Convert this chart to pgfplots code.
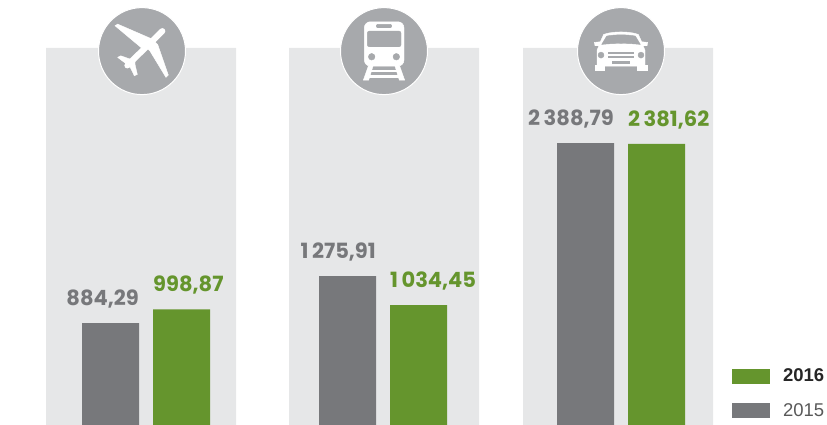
\documentclass[border=0pt]{standalone}
\usepackage{pgfplots}
\pgfplotsset{compat=1.18}
\usepackage{fontspec}
\setmainfont{Liberation Sans}
\newfontfamily\numfont{Poppins}
\definecolor{panel}{HTML}{E6E7E8}
\definecolor{disc}{HTML}{A7A9AC}
\definecolor{gbar}{HTML}{77787B}
\definecolor{green16}{HTML}{65952D}

% icons, in 1/3 px round the centre of the disc, y down
\pgfdeclareplotmark{plane}{%
  \begin{scope}[x=0.3333pt,y=-0.3333pt]
    \fill[white] (-81,-76)--(-73,-81)--(33,-35)--(4,-5)--cycle;
    \fill[white] (12,-12)--(33,-33)--(47,-20)--(79,72)--(72,79)--(24,0)--cycle;
    \fill[white] (-73,19)--(-64,14)--(-27,27)--(-43,43)--(-49,37)--cycle;
    \fill[white] (-36,36)--(-21,21)--(-21,40)--(-14,70)--(-23,74)--(-36,47)--cycle;
    \draw[white,line width=6pt,line cap=round] (61,-60)--(-44,43);
  \end{scope}}
\pgfdeclareplotmark{train}{%
  \begin{scope}[x=0.3333pt,y=-0.3333pt]
    \fill[white,rounded corners=6pt] (-59,45)--(-59,-88)--(60,-88)--(60,45)--cycle;
    \fill[disc,rounded corners=2pt] (-50,-60) rectangle (51,-13);
    \fill[disc,rounded corners=1pt] (-23,-80) rectangle (23,-70);
    \fill[disc] (-37,17) circle (3.3pt);
    \fill[disc] (37,17) circle (3.3pt);
    \fill[white] (-47,45)--(-33,45)--(-46,87)--(-62,87)--cycle;
    \fill[white] (33,45)--(47,45)--(62,87)--(46,87)--cycle;
    \fill[white] (-42,56) rectangle (42,61);
    \fill[white] (-50,72) rectangle (50,77);
  \end{scope}}
\pgfdeclareplotmark{car}{%
  \begin{scope}[x=0.3333pt,y=-0.3333pt]
    \fill[white] (-72,45)--(-72,-3)--(-66,-16)--(-78,-16)--(-80,-26)--(-62,-28)
      --(-52,-50) .. controls (-25,-60) and (25,-60) .. (52,-50)
      --(62,-28)--(80,-26)--(78,-16)--(66,-16)--(72,-3)--(72,45)--cycle;
    \fill[white] (-78,42) rectangle (-50,58);
    \fill[white] (50,42) rectangle (78,58);
    \fill[disc] (-58,-20)--(-43,-45) .. controls (-20,-50) and (20,-50) .. (43,-45)
      --(58,-20) .. controls (20,-24) and (-20,-24) .. (-58,-20)--cycle;
    \fill[disc] (-60,12) circle (3pt);
    \fill[disc] (60,12) circle (3pt);
    \fill[disc] (-37,4) rectangle (37,7);
    \fill[disc] (-37,14) rectangle (37,17);
    \fill[disc] (-25,30) rectangle (25,37);
  \end{scope}}

\pgfplotsset{
  valbar/.style 2 args={ybar, bar width=57pt, draw=none, fill=#1,
    nodes near coords, point meta=y,
    every node near coord/.append style={font=\numfont\bfseries\fontsize{21}{21}\selectfont,
      text=#1, inner sep=0pt, #2,
      /pgf/number format/.cd, fixed, fixed zerofill, precision=2, use comma,
      1000 sep={\kern3.5pt}, assume math mode=true}},
}

\begin{document}
\begin{tikzpicture}
\begin{axis}[
  scale only axis, width=827pt, height=425pt,
  axis lines=none,
  xmin=0, xmax=827, ymin=31.8, ymax=3585.3,
  legend style={draw=none, fill=none, at={(axis cs:732,517)}, anchor=north west,
    inner sep=0pt, outer sep=0pt, font=\fontsize{18.5}{18.5}\selectfont,
    row sep=16pt},
  legend cell align=left,
  reverse legend,
  legend image code/.code={\fill[#1] (0pt,-7.5pt) rectangle (38pt,7.5pt);},
]
% panels
\addplot[ybar, bar width=190pt, draw=none, fill=panel, forget plot] coordinates {(141,3184) (384,3184) (618,3184)};

% bars
\addplot[valbar={gbar}{anchor=south east, xshift=28.5pt, yshift=15pt}] coordinates {(110.5,884.29) (347.5,1275.91) (585.5,2388.79)};
\addlegendentry{\hspace*{11pt}\textcolor{black!65}{2015}}
\addplot[valbar={green16}{anchor=south west, xshift=-28.5pt, yshift=15pt}] coordinates {(181.5,998.87) (418.5,1034.45) (656.5,2381.62)};
\addlegendentry{\hspace*{11pt}\textcolor{black!85}{\textbf{2016}}}

% discs and icons
\addplot[only marks, mark=*, mark size=43.5pt, mark options={fill=disc, draw=white, line width=1pt}, forget plot]
  coordinates {(142,3158) (384,3158) (621,3158)};
\addplot[only marks, mark=plane, forget plot] coordinates {(142,3158)};
\addplot[only marks, mark=train, forget plot] coordinates {(384,3158)};
\addplot[only marks, mark=car, forget plot] coordinates {(621,3158)};
\end{axis}
\path[use as bounding box] (0,0) rectangle (827pt,425pt);
\end{tikzpicture}
\end{document}
